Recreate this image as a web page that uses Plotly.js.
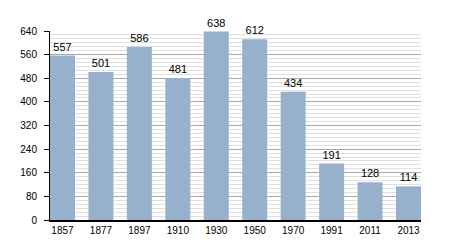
<!DOCTYPE html>
<html><head><meta charset="utf-8">
<script src="https://cdn.plot.ly/plotly-3.0.1.min.js"></script>
<style>html,body{margin:0;padding:0;background:#fff}#c{width:450px;height:250px}</style>
</head><body><div id="c"></div>
<script>
const years = ['1857','1877','1897','1910','1930','1950','1970','1991','2011','2013'];
const population = [557, 501, 586, 481, 638, 612, 434, 191, 128, 114];
const yTicks = [0, 80, 160, 240, 320, 400, 480, 560, 640];

const font = {family: 'Liberation Sans, Arial, sans-serif', size: 10, color: '#000'};
const gap = 0.35;
const trace = {
  type: 'bar', x: years, y: population,
  text: population.map(String), textposition: 'outside', cliponaxis: false,
  textfont: {family: font.family, size: 11, color: '#000'},
  marker: {color: '#97b1cc', line: {width: 0}},
  hoverinfo: 'none'
};
const layout = {
  width: 450, height: 250,
  margin: {l: 50, r: 29, t: 31, b: 30},
  paper_bgcolor: '#fff', plot_bgcolor: '#fff',
  showlegend: false, bargap: gap,
  font: font,
  xaxis: {type: 'category', range: [-0.5 + gap / 2, years.length - 0.5 - gap / 2],
          showline: true, linecolor: '#000', linewidth: 1.5,
          ticks: '', showgrid: false, zeroline: false, tickfont: font},
  yaxis: {range: [0, 640], tickvals: yTicks, ticks: 'outside', ticklen: 5, tickwidth: 1,
          tickcolor: '#000', showline: true, linecolor: '#000', linewidth: 1,
          gridcolor: '#a8a8a8', gridwidth: 1, zeroline: false, tickfont: font,
          ticklabelstandoff: 5,
          minor: {dtick: 80/6, tick0: 0, ticks: '', showgrid: true, gridcolor: '#e0e0e0', gridwidth: 1}},
  yaxis2: {overlaying: 'y', side: 'left', range: [0, 640], dtick: 80, tick0: 0, showgrid: false,
           showticklabels: false, ticks: '', zeroline: false, showline: false,
           minor: {dtick: 20, tick0: 0, ticks: 'outside', ticklen: 3, tickcolor: '#000', showgrid: false}}
};
Plotly.newPlot('c', [trace], layout, {staticPlot: true, displayModeBar: false});
</script></body></html>
